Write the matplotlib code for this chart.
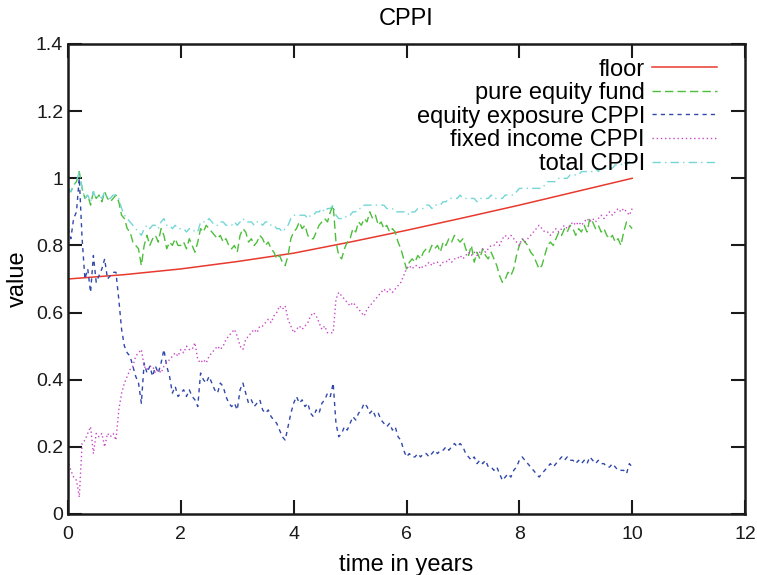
import numpy as np
import matplotlib
matplotlib.use("Agg")
import matplotlib.pyplot as plt

plt.rcParams['font.family'] = ['Liberation Sans', 'DejaVu Sans']

# time grid (years), one value every 0.05 years
t = np.linspace(0, 10, 201)

# floor, sampled once a year
floor_t = [0, 1, 2, 3, 4, 5, 6, 7, 8, 9, 10]
floor_v = [0.700, 0.713, 0.730, 0.752, 0.777, 0.810, 0.845, 0.882, 0.920, 0.960, 1.000]

pure_equity = [
    0.97, 0.96, 0.98, 0.99, 1.02, 0.97, 0.94, 0.95, 0.92, 0.96,
    0.94, 0.95, 0.93, 0.96, 0.94, 0.93, 0.94, 0.95, 0.93, 0.89,
    0.88, 0.85, 0.84, 0.81, 0.80, 0.79, 0.74, 0.80, 0.83, 0.80,
    0.82, 0.83, 0.81, 0.85, 0.83, 0.79, 0.81, 0.80, 0.82, 0.80,
    0.80, 0.81, 0.79, 0.82, 0.80, 0.78, 0.81, 0.85, 0.84, 0.86,
    0.85, 0.84, 0.83, 0.82, 0.83, 0.81, 0.82, 0.80, 0.79, 0.80,
    0.78, 0.83, 0.85, 0.84, 0.81, 0.82, 0.80, 0.81, 0.83, 0.82,
    0.80, 0.81, 0.79, 0.78, 0.76, 0.77, 0.75, 0.74, 0.77, 0.82,
    0.84, 0.85, 0.87, 0.85, 0.86, 0.83, 0.82, 0.82, 0.84, 0.86,
    0.87, 0.88, 0.87, 0.90, 0.92, 0.81, 0.77, 0.76, 0.79, 0.81,
    0.82, 0.85, 0.84, 0.87, 0.86, 0.88, 0.87, 0.90, 0.88, 0.89,
    0.86, 0.87, 0.85, 0.86, 0.84, 0.85, 0.84, 0.81, 0.79, 0.76,
    0.73, 0.75, 0.76, 0.75, 0.77, 0.76, 0.78, 0.79, 0.78, 0.80,
    0.79, 0.80, 0.78, 0.81, 0.80, 0.82, 0.81, 0.83, 0.82, 0.81,
    0.82, 0.79, 0.77, 0.80, 0.75, 0.78, 0.76, 0.79, 0.77, 0.76,
    0.78, 0.76, 0.74, 0.71, 0.69, 0.70, 0.72, 0.71, 0.73, 0.77,
    0.80, 0.82, 0.81, 0.80, 0.78, 0.77, 0.75, 0.73, 0.74, 0.77,
    0.80, 0.81, 0.80, 0.82, 0.84, 0.83, 0.85, 0.84, 0.86, 0.85,
    0.83, 0.85, 0.84, 0.86, 0.84, 0.88, 0.87, 0.85, 0.86, 0.84,
    0.85, 0.83, 0.82, 0.83, 0.81, 0.82, 0.80, 0.84, 0.87, 0.86,
    0.85,
]

equity_exposure = [
    0.85, 0.82, 0.88, 0.90, 1.00, 0.82, 0.70, 0.73, 0.66, 0.77,
    0.69, 0.71, 0.73, 0.76, 0.70, 0.71, 0.72, 0.72, 0.64, 0.55,
    0.50, 0.48, 0.47, 0.44, 0.41, 0.39, 0.33, 0.45, 0.42, 0.44,
    0.41, 0.44, 0.42, 0.45, 0.49, 0.44, 0.41, 0.36, 0.38, 0.35,
    0.36, 0.37, 0.35, 0.37, 0.35, 0.34, 0.32, 0.42, 0.40, 0.39,
    0.41, 0.39, 0.37, 0.36, 0.39, 0.38, 0.35, 0.33, 0.32, 0.33,
    0.31, 0.37, 0.39, 0.36, 0.33, 0.34, 0.32, 0.33, 0.34, 0.31,
    0.30, 0.31, 0.29, 0.28, 0.27, 0.25, 0.23, 0.22, 0.26, 0.30,
    0.33, 0.35, 0.33, 0.34, 0.32, 0.33, 0.30, 0.29, 0.31, 0.30,
    0.33, 0.34, 0.36, 0.35, 0.39, 0.27, 0.23, 0.24, 0.26, 0.25,
    0.27, 0.29, 0.28, 0.30, 0.31, 0.33, 0.32, 0.30, 0.31, 0.29,
    0.30, 0.28, 0.27, 0.26, 0.27, 0.25, 0.26, 0.23, 0.22, 0.19,
    0.17, 0.18, 0.17, 0.17, 0.18, 0.17, 0.18, 0.18, 0.17, 0.18,
    0.19, 0.18, 0.19, 0.19, 0.20, 0.19, 0.20, 0.21, 0.20, 0.21,
    0.20, 0.18, 0.17, 0.16, 0.17, 0.15, 0.16, 0.15, 0.16, 0.14,
    0.14, 0.13, 0.14, 0.12, 0.10, 0.11, 0.12, 0.11, 0.13, 0.14,
    0.16, 0.17, 0.16, 0.15, 0.14, 0.13, 0.12, 0.11, 0.12, 0.13,
    0.14, 0.15, 0.14, 0.15, 0.16, 0.17, 0.16, 0.17, 0.16, 0.16,
    0.15, 0.16, 0.15, 0.16, 0.15, 0.17, 0.16, 0.15, 0.16, 0.15,
    0.15, 0.14, 0.14, 0.15, 0.14, 0.13, 0.13, 0.13, 0.12, 0.15,
    0.14,
]

fixed_income = [
    0.16, 0.13, 0.11, 0.10, 0.05, 0.21, 0.22, 0.24, 0.26, 0.18,
    0.24, 0.23, 0.24, 0.20, 0.24, 0.23, 0.24, 0.22, 0.31, 0.36,
    0.39, 0.41, 0.43, 0.44, 0.47, 0.48, 0.49, 0.44, 0.43, 0.44,
    0.44, 0.42, 0.43, 0.42, 0.44, 0.45, 0.46, 0.47, 0.48, 0.47,
    0.49, 0.48, 0.50, 0.49, 0.49, 0.51, 0.46, 0.45, 0.46, 0.45,
    0.47, 0.48, 0.49, 0.50, 0.49, 0.50, 0.52, 0.53, 0.54, 0.55,
    0.53, 0.50, 0.49, 0.52, 0.53, 0.54, 0.55, 0.54, 0.56, 0.56,
    0.57, 0.58, 0.57, 0.59, 0.60, 0.62, 0.61, 0.62, 0.58, 0.56,
    0.54, 0.55, 0.56, 0.55, 0.56, 0.57, 0.59, 0.60, 0.59, 0.57,
    0.55, 0.56, 0.54, 0.54, 0.54, 0.64, 0.66, 0.65, 0.64, 0.63,
    0.62, 0.63, 0.62, 0.61, 0.60, 0.59, 0.61, 0.62, 0.63, 0.64,
    0.65, 0.66, 0.67, 0.66, 0.67, 0.66, 0.67, 0.68, 0.69, 0.71,
    0.73, 0.74, 0.73, 0.74, 0.74, 0.73, 0.74, 0.74, 0.75, 0.74,
    0.75, 0.75, 0.74, 0.75, 0.75, 0.76, 0.75, 0.76, 0.76, 0.77,
    0.76, 0.77, 0.78, 0.77, 0.78, 0.77, 0.78, 0.79, 0.78, 0.79,
    0.80, 0.80, 0.81, 0.80, 0.82, 0.83, 0.82, 0.83, 0.82, 0.81,
    0.80, 0.82, 0.81, 0.82, 0.83, 0.84, 0.85, 0.86, 0.85, 0.84,
    0.84, 0.83, 0.84, 0.85, 0.84, 0.85, 0.86, 0.85, 0.86, 0.87,
    0.86, 0.87, 0.86, 0.87, 0.88, 0.87, 0.88, 0.87, 0.88, 0.89,
    0.88, 0.89, 0.90, 0.89, 0.90, 0.91, 0.90, 0.91, 0.90, 0.89,
    0.91,
]

total_cppi = [
    0.97, 0.96, 0.98, 0.99, 1.02, 0.97, 0.94, 0.95, 0.93, 0.96,
    0.94, 0.95, 0.94, 0.96, 0.94, 0.94, 0.95, 0.95, 0.94, 0.91,
    0.89, 0.88, 0.87, 0.86, 0.85, 0.84, 0.83, 0.85, 0.86, 0.85,
    0.86, 0.86, 0.85, 0.87, 0.88, 0.86, 0.86, 0.85, 0.86, 0.85,
    0.85, 0.85, 0.84, 0.85, 0.85, 0.84, 0.84, 0.87, 0.87, 0.87,
    0.88, 0.87, 0.86, 0.86, 0.87, 0.87, 0.86, 0.86, 0.86, 0.87,
    0.86, 0.87, 0.88, 0.87, 0.87, 0.87, 0.86, 0.87, 0.87, 0.86,
    0.87, 0.87, 0.86, 0.86, 0.85, 0.85, 0.84, 0.85, 0.86, 0.88,
    0.89, 0.89, 0.89, 0.89, 0.89, 0.88, 0.89, 0.89, 0.90, 0.90,
    0.91, 0.90, 0.91, 0.91, 0.92, 0.89, 0.88, 0.88, 0.88, 0.89,
    0.89, 0.90, 0.90, 0.91, 0.91, 0.92, 0.92, 0.92, 0.92, 0.92,
    0.92, 0.92, 0.92, 0.91, 0.91, 0.91, 0.90, 0.90, 0.90, 0.90,
    0.90, 0.89, 0.90, 0.90, 0.91, 0.91, 0.91, 0.92, 0.92, 0.91,
    0.92, 0.92, 0.92, 0.93, 0.93, 0.94, 0.94, 0.94, 0.94, 0.95,
    0.94, 0.94, 0.94, 0.94, 0.94, 0.93, 0.94, 0.94, 0.94, 0.94,
    0.95, 0.94, 0.94, 0.94, 0.94, 0.95, 0.95, 0.95, 0.95, 0.96,
    0.97, 0.97, 0.97, 0.97, 0.97, 0.97, 0.97, 0.97, 0.97, 0.98,
    0.99, 0.99, 0.99, 0.99, 1.00, 1.00, 1.00, 1.00, 1.01, 1.01,
    1.01, 1.01, 1.02, 1.02, 1.02, 1.02, 1.02, 1.03, 1.02, 1.03,
    1.03, 1.03, 1.03, 1.03, 1.04, 1.04, 1.04, 1.05, 1.04, 1.05,
    1.05,
]

x_ticks = [0, 2, 4, 6, 8, 10, 12]
y_ticks = [0, 0.2, 0.4, 0.6, 0.8, 1.0, 1.2, 1.4]
y_tick_labels = ['0', '0.2', '0.4', '0.6', '0.8', '1', '1.2', '1.4']

fig = plt.figure(figsize=(7.57, 5.75), dpi=100)
ax = fig.add_axes([68 / 757, 61 / 575, 677 / 757, 470 / 575])

ax.plot(floor_t, floor_v, color='#e8392e', lw=1.1, label='floor')
ax.plot(t, pure_equity, color='#4cbf3a', lw=1.0, dashes=(6, 3),
        label='pure equity fund')
ax.plot(t, equity_exposure, color='#2f48aa', lw=1.0, dashes=(3, 3),
        label='equity exposure CPPI')
ax.plot(t, fixed_income, color='#c748c7', lw=1.0, dashes=(1, 2),
        label='fixed income CPPI')
ax.plot(t, total_cppi, color='#74d6d6', lw=1.0, dashes=(6, 3, 1, 3),
        label='total CPPI')

ax.set_xlim(0, 12)
ax.set_ylim(0, 1.4)
ax.set_xticks(x_ticks)
ax.set_xticklabels([str(v) for v in x_ticks])
ax.set_yticks(y_ticks)
ax.set_yticklabels(y_tick_labels)

ax.tick_params(direction='in', length=10, width=1.5, labelsize=14,
               top=True, right=True, colors='#1a1a1a')
ax.tick_params(axis='x', pad=8.5)
ax.tick_params(axis='y', pad=3.5)
for s in ax.spines.values():
    s.set_linewidth(1.8)
    s.set_color('#1a1a1a')

ax.set_xlabel('time in years', fontsize=17, labelpad=8)
ax.set_ylabel('value', fontsize=17, labelpad=5)
ax.set_title('CPPI', fontsize=17, pad=14)

leg = ax.legend(loc='upper right', bbox_to_anchor=(0.983, 1.004),
                markerfirst=False, frameon=False, fontsize=17,
                handlelength=2.75, handletextpad=0.3, labelspacing=0.065,
                borderpad=0.2)

fig.savefig('out.png', dpi=100)
